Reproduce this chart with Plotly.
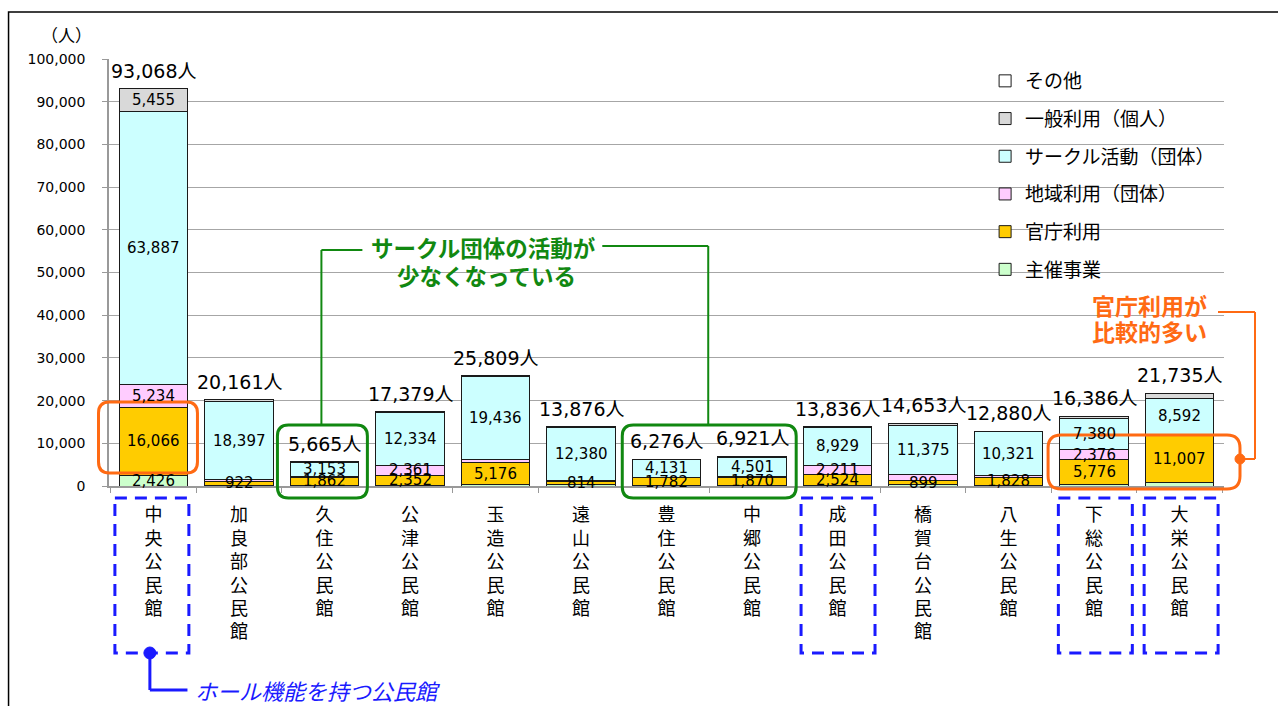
import plotly.graph_objects as go

# ---------------- data ----------------
categories = ["中央公民館", "加良部公民館", "久住公民館", "公津公民館", "玉造公民館", "遠山公民館",
              "豊住公民館", "中郷公民館", "成田公民館", "橋賀台公民館", "八生公民館", "下総公民館", "大栄公民館"]

series_names = ["主催事業", "官庁利用", "地域利用（団体）", "サークル活動（団体）", "一般利用（個人）", "その他"]

shusai   = [2426, 150, 150, 150, 250, 250, 120, 200, 100, 280, 200, 384, 850]
kancho   = [16066, 922, 1862, 2352, 5176, 814, 1782, 1870, 2524, 899, 1828, 5776, 11007]
chiiki   = [5234, 350, 300, 2361, 780, 250, 150, 200, 2211, 1600, 400, 2376, 150]
circle   = [63887, 18397, 3153, 12334, 19436, 12380, 4131, 4501, 8929, 11375, 10321, 7380, 8592]
ippan    = [5455, 342, 200, 182, 167, 182, 93, 150, 72, 499, 131, 470, 1136]
sonota   = [0, 0, 0, 0, 0, 0, 0, 0, 0, 0, 0, 0, 0]

totals   = [93068, 20161, 5665, 17379, 25809, 13876, 6276, 6921, 13836, 14653, 12880, 16386, 21735]

# which segment values are printed on the bars
show_shusai = [True] + [False] * 12
show_kancho = [True] * 13
show_chiiki = [True, False, False, True, False, False, False, False, True, False, False, True, False]
show_circle = [True] * 13
show_ippan  = [True] + [False] * 12

colors = ["#CCFFCC", "#FFCC00", "#FFCCFF", "#CCFFFF", "#D9D9D9", "#FFFFFF"]

y_ticks = [0, 10000, 20000, 30000, 40000, 50000, 60000, 70000, 80000, 90000, 100000]

# ---------------- layout geometry (pixels) ----------------
W, H = 1278, 706
PL, PR, PT, PB = 108.5, 1224, 59, 486


def X(px):
    return (px - PL) / (PR - PL)


def Y(py):
    return (PB - py) / (PB - PT)


NUM_FONT = "DejaVu Sans, Noto Sans CJK JP, sans-serif"
JP_FONT = "Noto Sans CJK JP, sans-serif"

fig = go.Figure()
all_series = [shusai, kancho, chiiki, circle, ippan, sonota]
for i, (name, vals, col) in enumerate(zip(series_names, all_series, colors)):
    fig.add_trace(go.Bar(
        x=categories, y=vals, name=name, legendgroup=name, legendrank=100 - i,
        marker=dict(color=col, line=dict(color="#1a1a1a", width=1)),
        width=0.8, hoverinfo="x+y+name",
    ))

annotations = []
# segment labels
shows = [show_shusai, show_kancho, show_chiiki, show_circle, show_ippan, [False] * 13]
for ci, cat in enumerate(categories):
    base = 0
    for s, vals in enumerate(all_series):
        v = vals[ci]
        if shows[s][ci]:
            annotations.append(dict(x=cat, y=base + v / 2, xref="x", yref="y", text=f"{v:,}",
                                    showarrow=False, font=dict(family=NUM_FONT, size=15, color="#000"),
                                    xanchor="center", yanchor="middle"))
        base += v
    annotations.append(dict(x=cat, y=totals[ci], xref="x", yref="y", text=f"{totals[ci]:,}人",
                            showarrow=False, xanchor="center", yanchor="bottom", yshift=5,
                            font=dict(family=NUM_FONT, size=19, color="#000")))


def ptext(x, y, text, size, color, anchor="center"):
    annotations.append(dict(x=X(x), y=Y(y), xref="paper", yref="paper", text=text, showarrow=False,
                            xanchor=anchor, yanchor="middle",
                            font=dict(family=JP_FONT, size=size, color=color)))


# unit label
ptext(66, 35, "（人）", 17, "#000")

GREEN = "#118811"
ORANGE = "#FF6A13"
BLUE = "#1A1AFF"

# green callout text
ptext(483, 247, "<b>サークル団体の活動が</b>", 22.5, GREEN)
ptext(486, 275, "<b>少なくなっている</b>", 22.5, GREEN)
# orange callout text
ptext(1149, 305, "<b>官庁利用が</b>", 23, ORANGE)
ptext(1149, 331, "<b>比較的多い</b>", 23, ORANGE)
# blue callout text
ptext(193, 690, "<i>ホール機能を持つ公民館</i>", 22, BLUE, anchor="left")

shapes = []


def line(x0, y0, x1, y1, color, width):
    shapes.append(dict(type="line", xref="paper", yref="paper", x0=X(x0), y0=Y(y0), x1=X(x1), y1=Y(y1),
                       line=dict(color=color, width=width), layer="above"))


def mask(x0, y0, x1, y1):
    shapes.append(dict(type="rect", xref="paper", yref="paper", x0=X(x0), y0=Y(y0), x1=X(x1), y1=Y(y1),
                       fillcolor="white", line=dict(width=0), layer="between"))


def rrect(x0, y0, x1, y1, r, color, width):
    p = (f"M {X(x0 + r)},{Y(y0)} L {X(x1 - r)},{Y(y0)} Q {X(x1)},{Y(y0)} {X(x1)},{Y(y0 + r)} "
         f"L {X(x1)},{Y(y1 - r)} Q {X(x1)},{Y(y1)} {X(x1 - r)},{Y(y1)} "
         f"L {X(x0 + r)},{Y(y1)} Q {X(x0)},{Y(y1)} {X(x0)},{Y(y1 - r)} "
         f"L {X(x0)},{Y(y0 + r)} Q {X(x0)},{Y(y0)} {X(x0 + r)},{Y(y0)} Z")
    shapes.append(dict(type="path", xref="paper", yref="paper", path=p,
                       line=dict(color=color, width=width), layer="above"))


def dot(cx, cy, rad, color):
    shapes.append(dict(type="circle", xref="paper", yref="paper", x0=X(cx - rad), x1=X(cx + rad),
                       y0=Y(cy + rad), y1=Y(cy - rad), fillcolor=color, line=dict(color=color, width=1),
                       layer="above"))


# masks hiding gridlines behind legend / callouts
mask(985, 63, 1226, 292)
mask(350, 226, 618, 292)
mask(1068, 290, 1226, 345)

# outer frame
shapes.append(dict(type="rect", xref="paper", yref="paper", x0=X(8), y0=Y(12), x1=X(1300), y1=Y(730),
                   line=dict(color="#000", width=1.5), fillcolor="rgba(0,0,0,0)", layer="above"))

# green callouts
rrect(277, 425, 367, 498, 11, GREEN, 3)
rrect(622, 425, 796, 498, 11, GREEN, 3)
line(321, 425, 321, 250, GREEN, 2)
line(321, 250, 362, 250, GREEN, 2)
line(602, 246, 708, 246, GREEN, 2)
line(708, 246, 708, 425, GREEN, 2)

# orange callouts
rrect(98, 402, 197, 473, 11, ORANGE, 3)
rrect(1048, 435, 1240, 489, 13, ORANGE, 3)
line(1218, 312, 1255, 312, ORANGE, 2)
line(1255, 312, 1255, 459, ORANGE, 2)
line(1255, 459, 1240, 459, ORANGE, 2)
dot(1240, 459, 5, ORANGE)

# blue dashed boxes (hall facilities)
step = (PR - PL) / len(categories)
for idx in [0, 8, 11, 12]:
    cx = PL + step * (idx + 0.5)
    shapes.append(dict(type="rect", xref="paper", yref="paper", x0=X(cx - 37), x1=X(cx + 37),
                       y0=Y(498), y1=Y(653), line=dict(color=BLUE, width=3, dash="12px,8px"),
                       fillcolor="rgba(0,0,0,0)", layer="above"))
c0 = PL + step * 0.5
dot(c0 - 2, 653, 6, BLUE)
line(c0 - 2, 653, c0 - 2, 690, BLUE, 3)
line(c0 - 2, 690, 187, 690, BLUE, 3)

fig.update_layout(
    width=W, height=H,
    barmode="stack", bargap=0.2,
    plot_bgcolor="white", paper_bgcolor="white",
    margin=dict(l=PL, r=W - PR, t=PT, b=H - PB, pad=0),
    font=dict(family=JP_FONT, color="#000"),
    showlegend=True,
    legend=dict(x=X(985), y=Y(62), xanchor="left", yanchor="top", traceorder="grouped",
                tracegroupgap=10, bgcolor="rgba(0,0,0,0)",
                font=dict(family=JP_FONT, size=19, color="#000")),
    annotations=annotations,
    shapes=shapes,
    xaxis=dict(
        tickmode="array", tickvals=categories,
        ticktext=["<br>".join(list(c)) for c in categories],
        tickfont=dict(family=JP_FONT, size=18, color="#000"),
        showline=True, linecolor="#999", linewidth=1.5,
        ticks="outside", tickson="boundaries", ticklen=5, tickcolor="#999",
        ticklabelstandoff=12,
        showgrid=False, fixedrange=True,
    ),
    yaxis=dict(
        range=[0, 100000], tickvals=y_ticks, tickformat=",",
        tickfont=dict(family=NUM_FONT, size=14, color="#000"),
        showline=True, linecolor="#999", linewidth=1.5,
        ticks="outside", ticklen=5, tickcolor="#999",
        showgrid=True, gridcolor="#A6A6A6", gridwidth=1,
        zeroline=False, ticklabelstandoff=14, fixedrange=True,
    ),
)

fig.write_html("out.html", config={"displayModeBar": False})

# remove the browser's default page margin so the figure sits at the top-left corner
with open("out.html", encoding="utf-8") as f:
    html = f.read()
html = html.replace("<head>", "<head><style>html,body{margin:0;padding:0;}</style>", 1)
with open("out.html", "w", encoding="utf-8") as f:
    f.write(html)
